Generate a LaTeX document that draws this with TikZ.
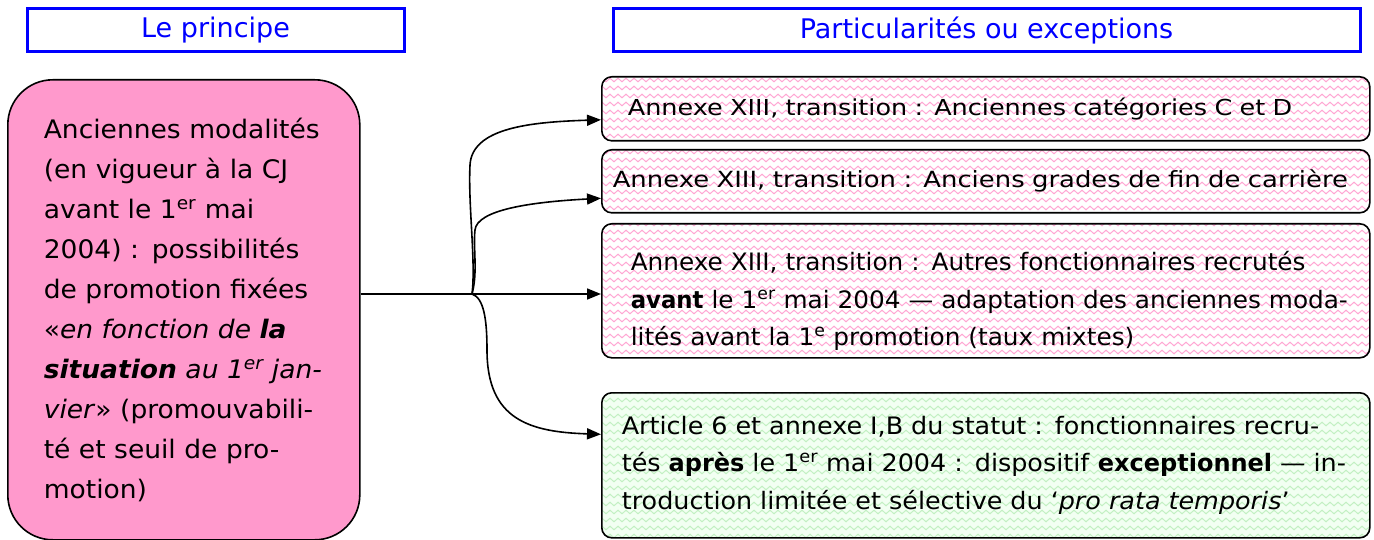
\documentclass[tikz,border=0pt]{standalone}
\usepackage{fontspec}
\setmainfont{DejaVu Sans}
\newfontfamily\fa[FakeStretch=1.16]{DejaVu Sans}
\newfontfamily\fb[FakeStretch=1.04]{DejaVu Sans}
\newfontfamily\fc[FakeStretch=1.03, BoldFeatures={FakeStretch=0.95}]{DejaVu Sans}
\newfontfamily\fd[FakeStretch=1.06, BoldFeatures={FakeStretch=1.0}]{DejaVu Sans}
\usetikzlibrary{arrows.meta,patterns}
\definecolor{hdrblue}{RGB}{0,0,255}
\definecolor{lpink}{RGB}{255,153,204}
\definecolor{wavepink}{RGB}{255,168,212}
\definecolor{wavegreen}{RGB}{195,240,195}
\definecolor{bggreen}{RGB}{242,255,242}
\pgfdeclarepatternformonly{wavy}{\pgfpoint{-1pt}{-1pt}}{\pgfpoint{9pt}{9pt}}{\pgfpoint{8pt}{8pt}}{%
  \pgfsetlinewidth{1pt}%
  \pgfpathmoveto{\pgfpoint{0pt}{4pt}}%
  \pgfpathcurveto{\pgfpoint{1.3pt}{6.4pt}}{\pgfpoint{2.7pt}{6.4pt}}{\pgfpoint{4pt}{4pt}}%
  \pgfpathcurveto{\pgfpoint{5.3pt}{1.6pt}}{\pgfpoint{6.7pt}{1.6pt}}{\pgfpoint{8pt}{4pt}}%
  \pgfusepath{stroke}}
\begin{document}
\begin{tikzpicture}[x=1pt,y=-1pt,
  hdr/.style={draw=hdrblue, line width=3pt, text=hdrblue, font=\fontsize{27}{30}\selectfont, inner sep=0pt, fill=white},
  waves/.style 2 args={preaction={fill=#2}, pattern=wavy, pattern color=#1},
  rbox/.style={draw=black, line width=1.6pt, rounded corners=10pt, align=left, anchor=north west, inner ysep=0pt},
  arr/.style={line width=1.6pt, -{Triangle[length=14pt,width=11pt]}}
]
\useasboundingbox (0,0) rectangle (1374,540);
% headers
\node (H1) [hdr, minimum width=377pt, minimum height=43pt] at (215.5,30.5) {Le principe};
\node (H2) [hdr, minimum width=747pt, minimum height=43pt] at (986.5,30.5) {Particularités ou exceptions};
% left box
\node (L) [draw, line width=1.6pt, fill=lpink, rounded corners=45pt, minimum height=460pt, text width=280pt, inner xsep=36pt, inner ysep=0pt, anchor=north west, align=left, font=\fb\fontsize{25.5}{40}\selectfont] at (7,79) {\mbox{Anciennes modalités}\\
\mbox{(en vigueur à la CJ}\\
\mbox{avant le 1\textsuperscript{er} mai}\\
\mbox{2004) : possibilités}\\
\mbox{de promotion fixées}\\
\mbox{«\textit{en fonction de \textbf{la}}}\\
\mbox{\textit{\textbf{situation} au 1\textsuperscript{er} jan-}}\\
\mbox{\textit{vier}» (promouvabili-}\\
\mbox{té et seuil de pro-}\\
\mbox{motion)}};
% right boxes
\node (A1) [rbox, waves={wavepink}{white}, minimum height=64pt, text width=716pt, inner xsep=26pt, font=\fa\fontsize{22}{26}\selectfont] at (601,76) {\mbox{Annexe XIII, transition : Anciennes catégories C et D}};
\node (A2) [rbox, waves={wavepink}{white}, minimum height=63pt, text width=746pt, inner xsep=11pt, font=\fa\fontsize{22.3}{26}\selectfont] at (601,149) {\mbox{Annexe XIII, transition : Anciens grades de fin de carrière}};
\node (A3) [rbox, waves={wavepink}{white}, minimum height=134pt, text width=710pt, inner xsep=29pt, font=\fc\fontsize{24}{37.5}\selectfont] at (601,223) {\mbox{\rule{0pt}{40pt}Annexe XIII, transition : Autres fonctionnaires recrutés}\\
\mbox{\textbf{avant} le 1\textsuperscript{er} mai 2004 — adaptation des anciennes moda-}\\
\mbox{lités avant la 1\textsuperscript{e} promotion (taux mixtes)}};
\node (A4) [rbox, waves={wavegreen}{bggreen}, minimum height=145pt, text width=728pt, inner xsep=20pt, font=\fd\fontsize{24}{37.5}\selectfont] at (601,392) {\mbox{Article 6 et annexe I,B du statut : fonctionnaires recru-}\\
\mbox{tés \textbf{après} le 1\textsuperscript{er} mai 2004 : dispositif \textbf{exceptionnel} — in-}\\
\mbox{troduction limitée et sélective du ‘\textit{pro rata temporis}’}};
% connectors
\coordinate (br) at (472,294);
\draw[line width=2.6pt] (L.east |- br) -- (br);
\draw[arr] (br) .. controls (476,262) and (468,205) .. (470,165) .. controls (472,128) and (530,122) .. ([yshift=-11pt]A1.west);
\draw[arr] (br) .. controls (478,272) and (473,248) .. (475,230) .. controls (477,210) and (530,202) .. ([yshift=-17pt]A2.west);
\draw[arr] (br) -- (A3.west |- br);
\draw[arr] (br) .. controls (484,298) and (487,320) .. (487,350) .. controls (487,420) and (530,432) .. ([yshift=31pt]A4.west);
\end{tikzpicture}
\end{document}
